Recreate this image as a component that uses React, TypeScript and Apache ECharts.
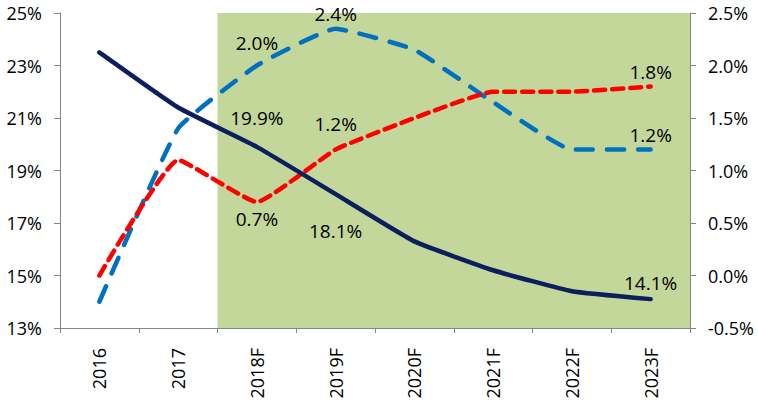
import React, { useEffect, useRef } from "react";
import * as echarts from "echarts";

const categories = ["2016", "2017", "2018F", "2019F", "2020F", "2021F", "2022F", "2023F"];
const navyValues = [23.5, 21.4, 19.9, 18.1, 16.3, 15.2, 14.4, 14.1];
const redValues = [0.0, 1.1, 0.7, 1.2, 1.5, 1.75, 1.75, 1.8];
const blueValues = [-0.25, 1.4, 2.0, 2.35, 2.15, 1.65, 1.2, 1.2];
const forecastFrom = "2018F";
const leftTicks = { min: 13, max: 25, interval: 2 };
const rightTicks = { min: -0.5, max: 2.5, interval: 0.5 };

const FONT = "Open Sans";

type LabelSpec = { position: string; distance: number; offset?: number[] };

const navyLabels: Record<number, LabelSpec> = {
  2: { position: "top", distance: 19, offset: [-2, 0] },
  3: { position: "bottom", distance: 27, offset: [11, 0] },
  7: { position: "top", distance: 7 },
};
const redLabels: Record<number, LabelSpec> = {
  2: { position: "bottom", distance: 7, offset: [2, 0] },
  3: { position: "top", distance: 16, offset: [10, 0] },
  7: { position: "top", distance: 5 },
};
const blueLabels: Record<number, LabelSpec> = {
  2: { position: "top", distance: 13, offset: [-2, 0] },
  3: { position: "top", distance: 5, offset: [5, 0] },
  7: { position: "top", distance: 5 },
};

function buildData(values: number[], labels: Record<number, LabelSpec>) {
  return values.map((v, i) => {
    const spec = labels[i];
    if (!spec) return { value: v, label: { show: false } };
    return {
      value: v,
      label: {
        show: true,
        position: spec.position,
        distance: spec.distance,
        offset: spec.offset || [0, 0],
        formatter: (p: any) => `${Number(p.value).toFixed(1)}%`,
        color: "#000",
        fontFamily: FONT,
        fontSize: 19,
        lineHeight: 19,
      },
    };
  });
}

export default function App() {
  const ref = useRef<HTMLDivElement>(null);
  useEffect(() => {
    if (!ref.current) return;
    const chart = echarts.init(ref.current, null, { renderer: "svg" });
    const axisLine = { show: true, onZero: false, lineStyle: { color: "#868686", width: 1 } };
    const lineCommon = {
      type: "line",
      smooth: 0.12,
      symbol: "circle",
      symbolSize: 0.01,
      showSymbol: true,
      itemStyle: { color: "rgba(0,0,0,0)", borderWidth: 0 },
      labelLayout: { hideOverlap: false },
      z: 5,
    };
    const startIdx = categories.indexOf(forecastFrom);
    chart.setOption({
      animation: false,
      grid: { left: 60, right: 68, top: 13, bottom: 76, containLabel: false },
      xAxis: [
        {
          type: "category",
          data: categories,
          boundaryGap: true,
          axisLine,
          axisTick: { show: true, length: 5, lineStyle: { color: "#868686" } },
          axisLabel: {
            rotate: 90,
            margin: 20,
            color: "#000",
            fontFamily: FONT,
            fontSize: 18,
          },
          splitLine: { show: false },
          z: 10,
        },
        {
          type: "value",
          min: 0,
          max: categories.length,
          show: false,
        },
      ],
      yAxis: [
        {
          type: "value",
          position: "left",
          min: leftTicks.min,
          max: leftTicks.max,
          interval: leftTicks.interval,
          axisLine,
          axisTick: { show: true, length: 6, lineStyle: { color: "#868686" } },
          axisLabel: {
            margin: 18,
            color: "#000",
            fontFamily: FONT,
            fontSize: 18,
            formatter: (v: number) => `${v}%`,
          },
          splitLine: { show: false },
          z: 10,
        },
        {
          type: "value",
          position: "right",
          min: rightTicks.min,
          max: rightTicks.max,
          interval: rightTicks.interval,
          axisLine,
          axisTick: { show: true, length: 6, lineStyle: { color: "#868686" } },
          axisLabel: {
            margin: 18,
            color: "#000",
            fontFamily: FONT,
            fontSize: 18,
            formatter: (v: number) => `${v.toFixed(1)}%`,
          },
          splitLine: { show: false },
          z: 10,
        },
      ],
      series: [
        {
          type: "line",
          xAxisIndex: 1,
          yAxisIndex: 0,
          data: [],
          silent: true,
          z: 1,
          markArea: {
            silent: true,
            itemStyle: { color: "#c4d79b", opacity: 1 },
            data: [[{ xAxis: startIdx }, { xAxis: categories.length }]],
          },
        },
        {
          ...lineCommon,
          yAxisIndex: 0,
          data: buildData(navyValues, navyLabels),
          lineStyle: { color: "#0c1f5c", width: 4.5, cap: "round" },
          z: 5,
        },
        {
          ...lineCommon,
          yAxisIndex: 1,
          data: buildData(redValues, redLabels),
          lineStyle: { color: "#ff0000", width: 4.5, type: [11, 7], cap: "round" },
          z: 4,
        },
        {
          ...lineCommon,
          yAxisIndex: 1,
          data: buildData(blueValues, blueLabels),
          lineStyle: { color: "#0070c0", width: 4.5, type: [17, 14], cap: "round" },
          z: 3,
        },
      ],
    });
    return () => chart.dispose();
  }, []);
  return <div ref={ref} style={{ width: 758, height: 404, position: "absolute", left: 0, top: 0 }} />;
}
